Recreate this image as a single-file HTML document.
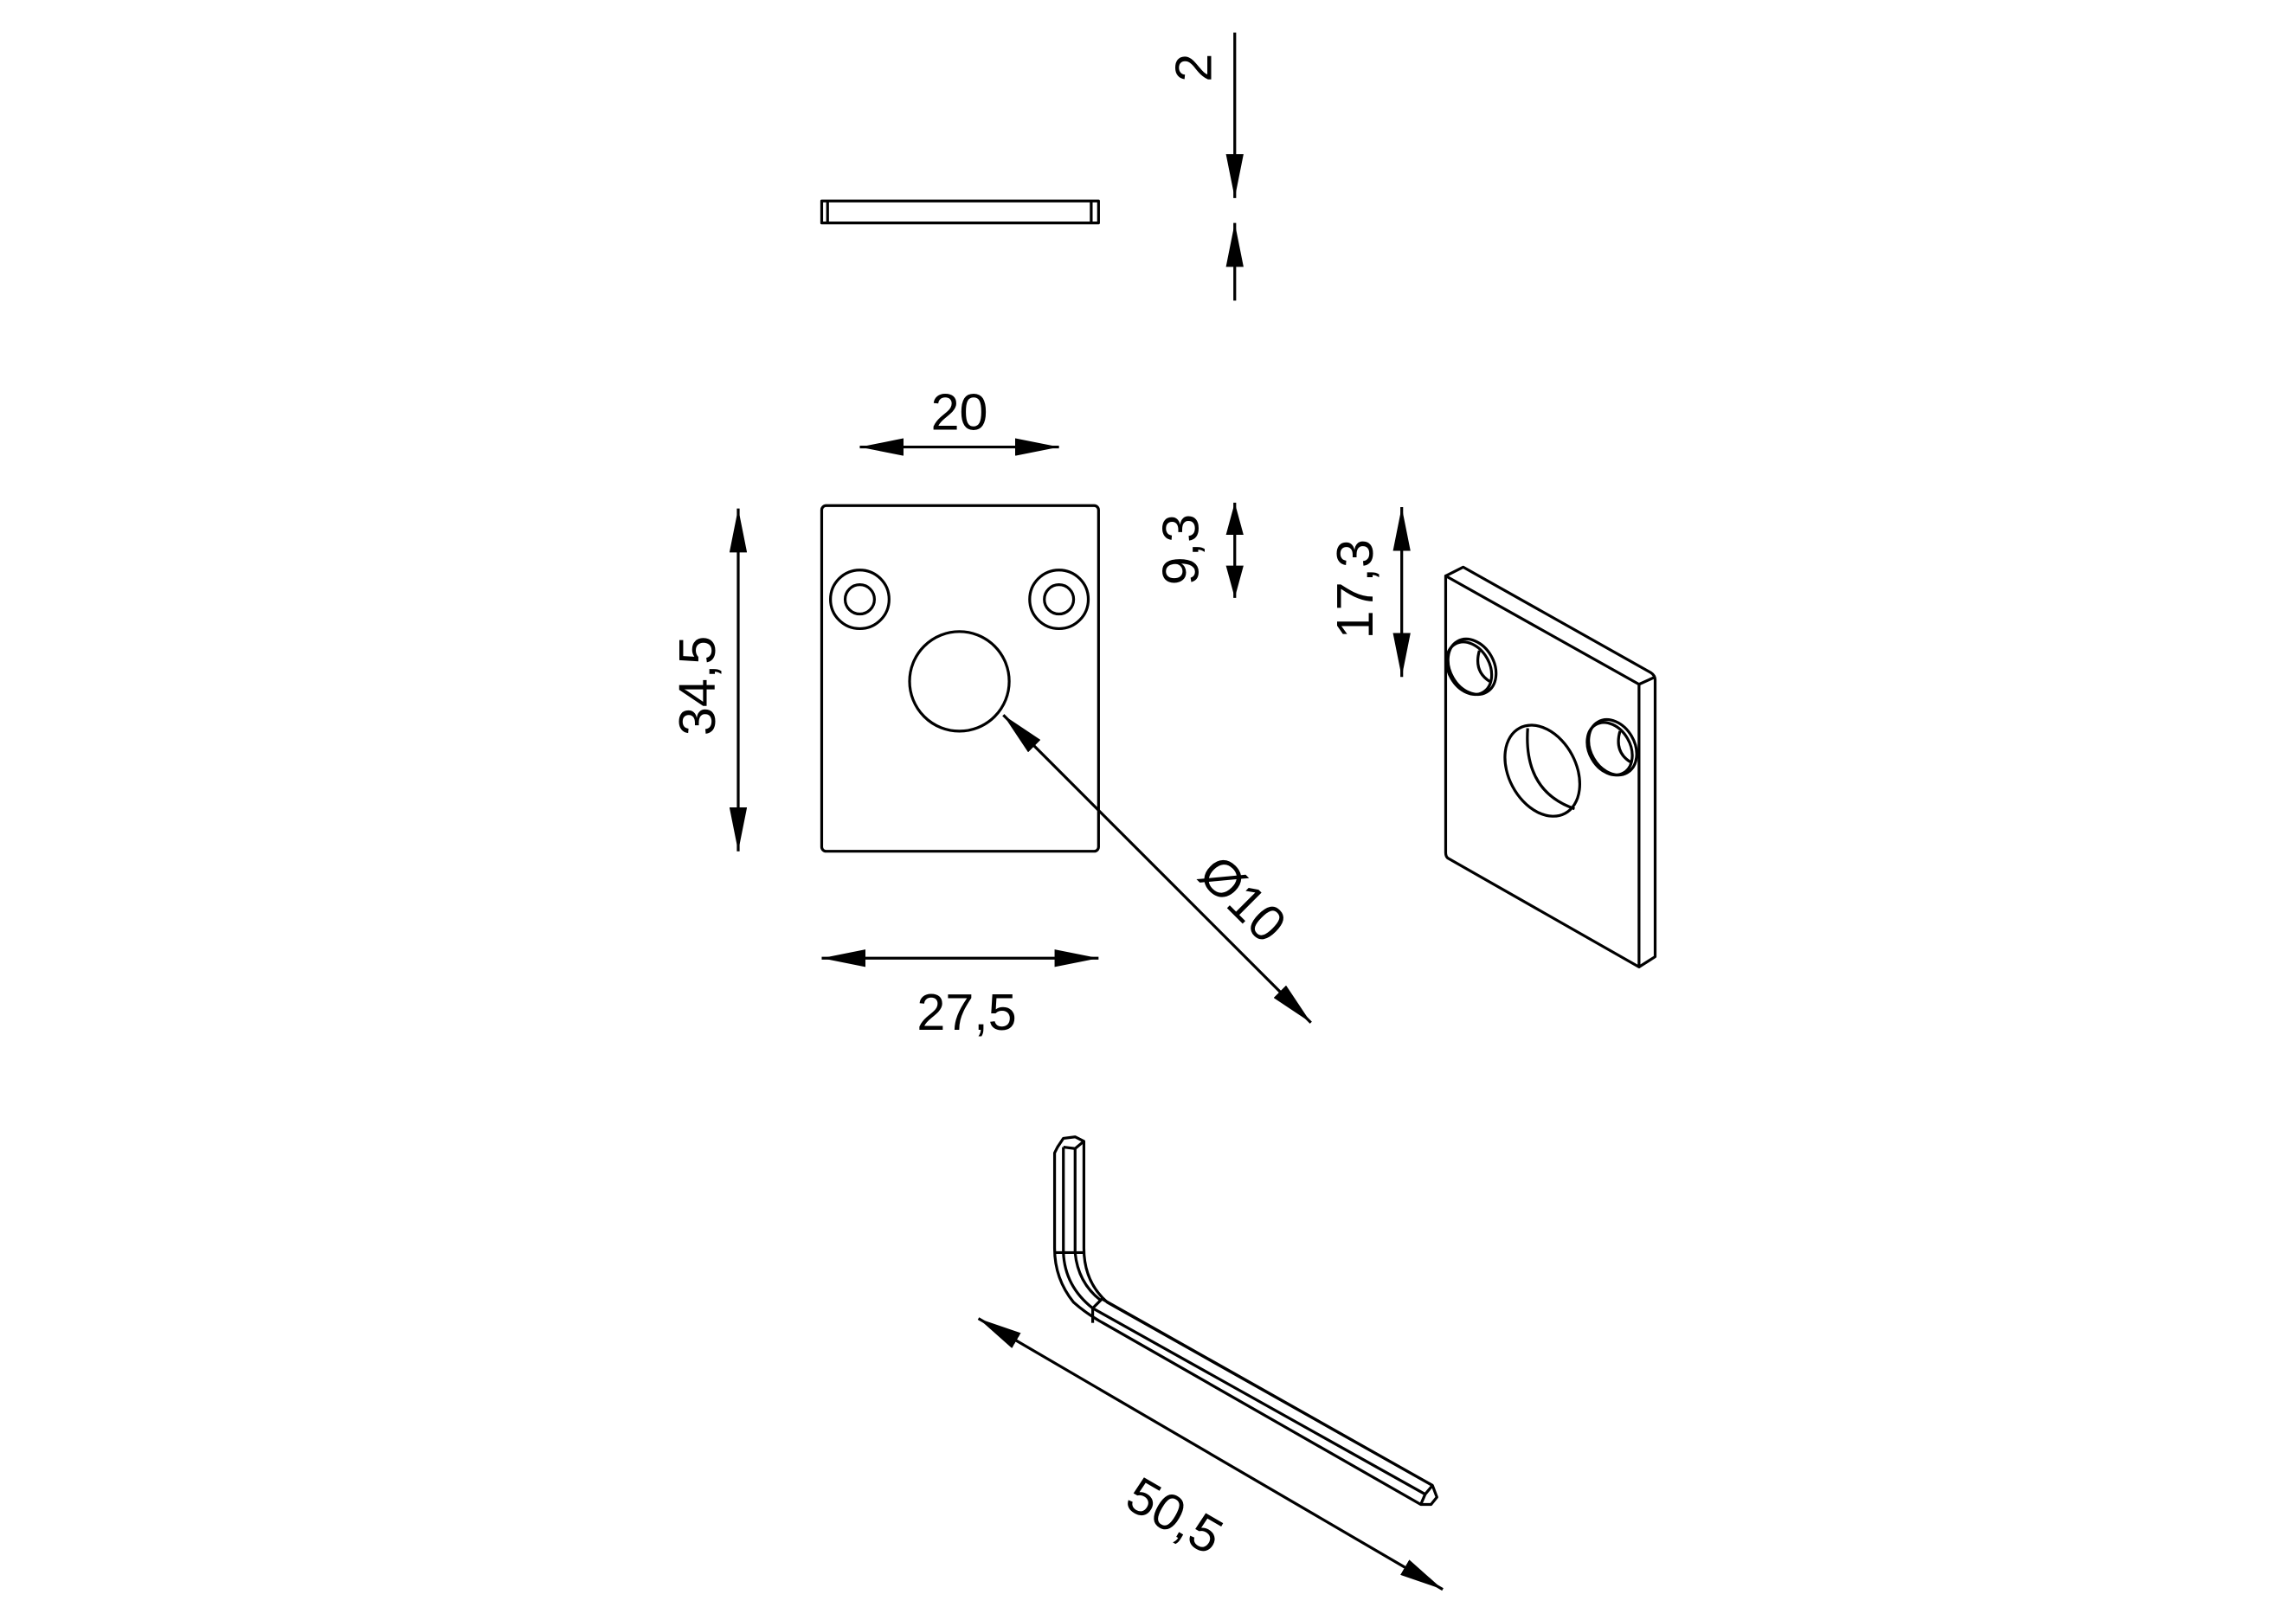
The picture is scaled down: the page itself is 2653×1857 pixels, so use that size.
<!DOCTYPE html>
<html><head><meta charset="utf-8"><style>
html,body{margin:0;padding:0;background:#fff;}
svg{display:block;}
text{font-family:"Liberation Sans Narrow","Liberation Sans",sans-serif;font-size:35px;fill:#000;}
</style></head><body>
<svg width="2653" height="1857" viewBox="0 0 1555 1088" xmlns="http://www.w3.org/2000/svg">
<defs>
<marker id="a" viewBox="0 0 30 12" refX="30" refY="6" markerWidth="30" markerHeight="12" markerUnits="userSpaceOnUse" orient="auto"><path d="M0,0 L30,6 L0,12 Z" fill="#000"/></marker>
<marker id="b" viewBox="0 0 30 12" refX="0" refY="6" markerWidth="30" markerHeight="12" markerUnits="userSpaceOnUse" orient="auto"><path d="M30,0 L0,6 L30,12 Z" fill="#000"/></marker>
<marker id="c" viewBox="0 0 22 12" refX="22" refY="6" markerWidth="22" markerHeight="12" markerUnits="userSpaceOnUse" orient="auto"><path d="M0,0 L22,6 L0,12 Z" fill="#000"/></marker>
<marker id="d" viewBox="0 0 22 12" refX="0" refY="6" markerWidth="22" markerHeight="12" markerUnits="userSpaceOnUse" orient="auto"><path d="M22,0 L0,6 L22,12 Z" fill="#000"/></marker>
</defs>
<g transform="scale(0.992)">
<g fill="none" stroke="#000" stroke-width="1.9" stroke-linejoin="round">
<rect x="561" y="137" width="189" height="15"/>
<line x1="565" y1="137" x2="565" y2="152"/>
<line x1="745" y1="137" x2="745" y2="152"/>
<line x1="843" y1="22" x2="843" y2="135" marker-end="url(#a)"/>
<line x1="843" y1="205" x2="843" y2="152" marker-end="url(#a)"/>
<rect x="561" y="345" width="189" height="236" rx="3"/>
<circle cx="587" cy="409" r="20"/><circle cx="587" cy="409" r="10"/>
<circle cx="723" cy="409" r="20"/><circle cx="723" cy="409" r="10"/>
<circle cx="655" cy="465" r="34"/>
<line x1="587" y1="305" x2="723" y2="305" marker-start="url(#b)" marker-end="url(#a)"/>
<line x1="561" y1="654" x2="750" y2="654" marker-start="url(#b)" marker-end="url(#a)"/>
<line x1="504" y1="347" x2="504" y2="581" marker-start="url(#b)" marker-end="url(#a)"/>
<line x1="685" y1="488" x2="895" y2="698" marker-start="url(#b)" marker-end="url(#a)"/>
<line x1="843" y1="343" x2="843" y2="408" marker-start="url(#d)" marker-end="url(#c)"/>
<line x1="957" y1="346" x2="957" y2="462" marker-start="url(#b)" marker-end="url(#a)"/>
<line x1="668" y1="900" x2="985" y2="1085" marker-start="url(#b)" marker-end="url(#a)"/>
<path d="M987,393 L1119,467 L1119,660 L989,586 Q987,585 987,582 Z"/>
<path d="M987,393 L999,387 L1127,459 Q1130,461 1130,464 L1130,653 L1119,660"/>
<path d="M1119,467 L1130,462"/>
<ellipse cx="1005" cy="455" rx="15" ry="20" transform="rotate(-30 1005 455)"/>
<ellipse cx="1003" cy="456" rx="14" ry="19" transform="rotate(-30 1003 456)"/>
<path d="M1010,444 Q1006,458 1017,465"/>
<ellipse cx="1053" cy="526" rx="23" ry="33" transform="rotate(-28 1053 526)"/>
<path d="M1043,497 Q1040,540 1075,552"/>
<ellipse cx="1101" cy="510" rx="15" ry="20" transform="rotate(-30 1101 510)"/>
<ellipse cx="1099" cy="511" rx="14" ry="19" transform="rotate(-30 1099 511)"/>
<path d="M1106,499 Q1102,513 1113,520"/>
<path d="M722,783 L726,777 L734,776 L740,779 L740,852 Q740,875 756,889 L978,1014 L981,1022 L977,1027 L970,1027 L753,903 Q742,897 733,889 Q720,873 720,852 L720,787 Z"/>
<line x1="726" y1="783" x2="734" y2="784"/><line x1="734" y1="784" x2="740" y2="779"/>
<line x1="726" y1="783" x2="726" y2="855"/><line x1="734" y1="784" x2="734" y2="855"/>
<line x1="720" y1="855" x2="740" y2="855"/>
<path d="M726,855 Q727,878 746,893"/><path d="M734,855 Q736,876 752,888"/>
<line x1="746" y1="893" x2="753" y2="886"/><line x1="746" y1="893" x2="746" y2="903"/>
<line x1="746" y1="893" x2="973" y2="1020"/><line x1="753" y1="887" x2="978" y2="1014"/>
<line x1="973" y1="1020" x2="978" y2="1014"/><line x1="973" y1="1020" x2="970" y2="1027"/>
</g>
<text x="655" y="293" text-anchor="middle">20</text>
<text x="660" y="703" text-anchor="middle">27,5</text>
<text transform="translate(827,46) rotate(-90)" text-anchor="middle">2</text>
<text transform="translate(488,468) rotate(-90)" text-anchor="middle">34,5</text>
<text transform="translate(818,375) rotate(-90)" text-anchor="middle">9,3</text>
<text transform="translate(937,402) rotate(-90)" text-anchor="middle">17,3</text>
<text transform="translate(840,622) rotate(45)" text-anchor="middle">Ø10</text>
<text transform="translate(796,1045) rotate(30)" text-anchor="middle">50,5</text>
</g>
</svg>
</body></html>
